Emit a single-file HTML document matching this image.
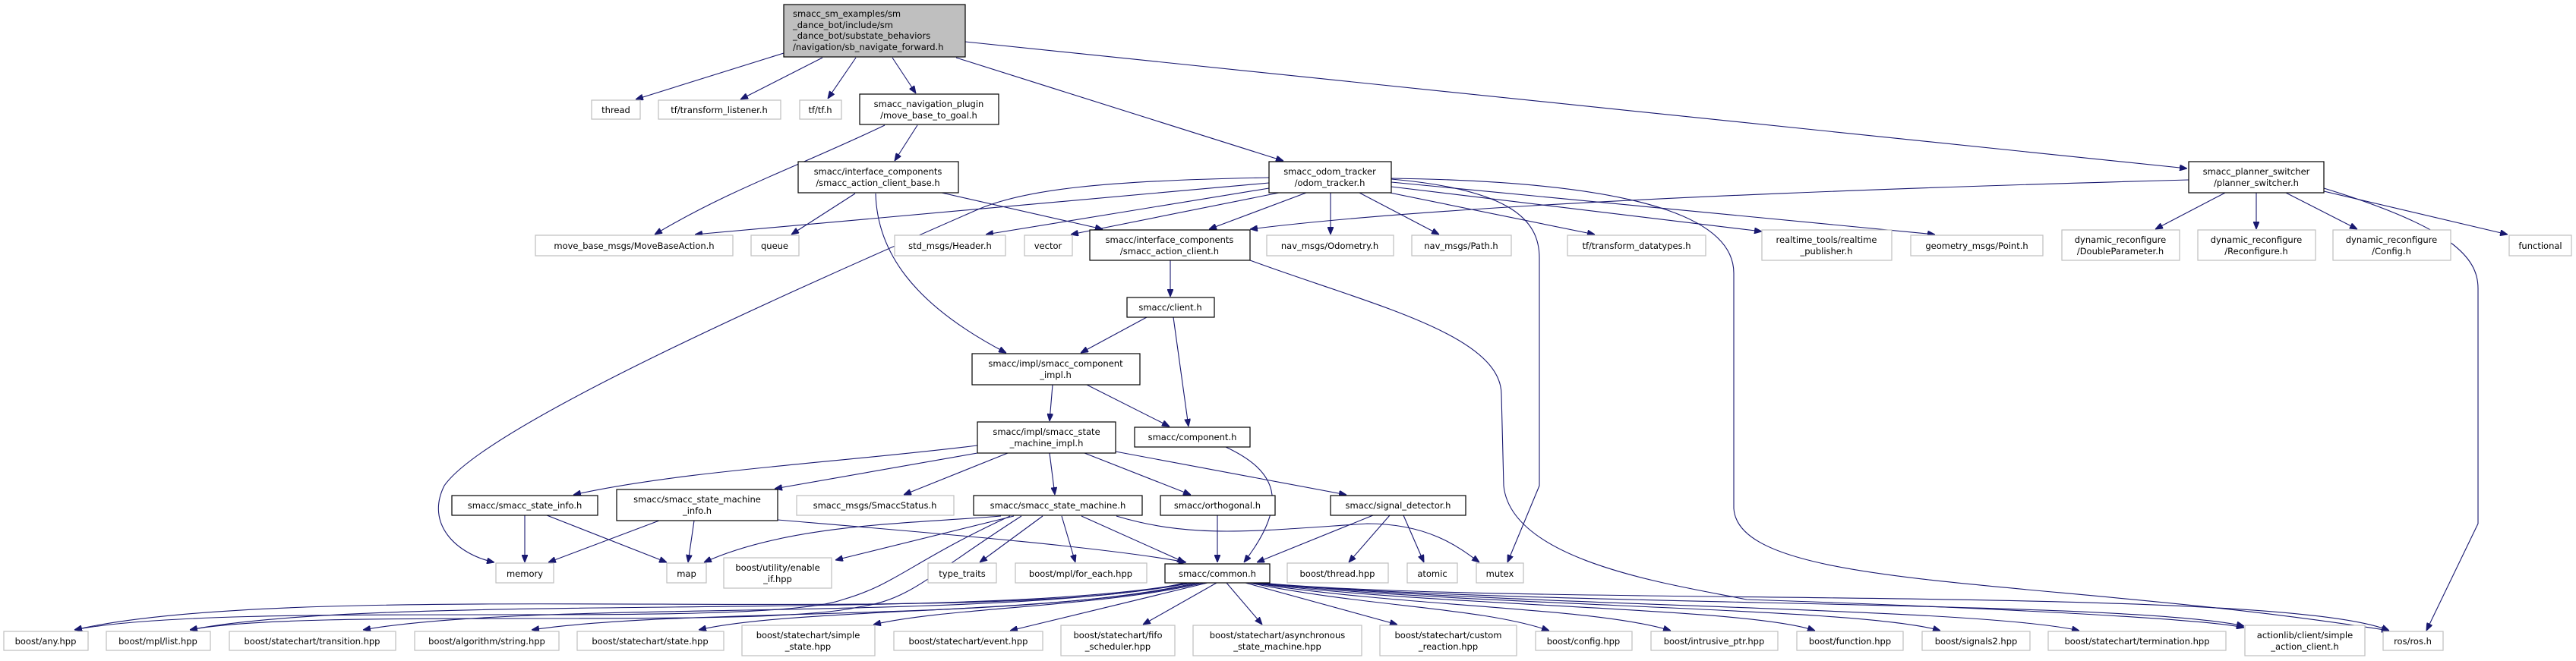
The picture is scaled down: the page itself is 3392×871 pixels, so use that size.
<!DOCTYPE html>
<html><head><meta charset="utf-8"><style>
html,body{margin:0;padding:0;background:#fff;}
svg{display:block;}
text{font-family:"DejaVu Sans","Liberation Sans",sans-serif;font-size:11.5px;fill:#000;}
.g{fill:#fff;stroke:#bfbfbf;stroke-width:1.2;}
.b{fill:#fff;stroke:#000;stroke-width:1.2;}
.e{fill:none;stroke:#191970;stroke-width:1.1;}
</style></head><body>
<svg width="3392" height="871" viewBox="0 0 3392 871" xmlns="http://www.w3.org/2000/svg">
<defs><marker id="a" viewBox="0 0 10 8" refX="10" refY="4" markerWidth="10" markerHeight="8" markerUnits="userSpaceOnUse" orient="auto"><path d="M0,0 L10,4 L0,8 z" fill="#191970" stroke="#191970"/></marker></defs>
<g class="e" marker-end="url(#a)">
<path d="M1032,70 L837,131"/>
<path d="M1083,76 L975,131"/>
<path d="M1127,76 L1090,130"/>
<path d="M1175,76 L1206,123"/>
<path d="M1259,76 L1690,212"/>
<path d="M1271,55 L2880,222"/>
<path d="M1165,165 C1050,220 960,250 862,309"/>
<path d="M1208,165 L1178,212"/>
<path d="M1126,255 L1042,309"/>
<path d="M1240,254 L1452,302"/>
<path d="M1153,255 C1155,330 1200,400 1325,465"/>
<path d="M1671,234 C1450,238 1350,250 1290,275 C1050,380 640,560 585,640 C560,690 600,730 651,741"/>
<path d="M1671,241 L915,309"/>
<path d="M1671,248 L1298,309"/>
<path d="M1684,254 L1410,309"/>
<path d="M1720,254 L1592,302"/>
<path d="M1752,254 L1752,309"/>
<path d="M1790,254 L1895,309"/>
<path d="M1830,254 L2100,309"/>
<path d="M1832,246 L2320,305"/>
<path d="M1832,240 L2548,309"/>
<path d="M1832,236 C1990,250 2027,290 2027,340 L2027,640 L1985,741"/>
<path d="M1832,235 C2200,240 2283,300 2283,360 L2283,670 C2290,780 2700,760 3146,831"/>
<path d="M2882,237 C2400,250 1900,270 1646,302"/>
<path d="M2930,254 L2838,302"/>
<path d="M2971,254 L2971,302"/>
<path d="M3010,254 L3104,302"/>
<path d="M3060,252 L3302,309"/>
<path d="M3060,248 C3230,300 3263,340 3263,380 L3263,690 L3195,831"/>
<path d="M1646,343 C1800,400 1977,440 1977,520 L1980,640 C1990,740 2200,770 2300,790 C2600,800 2900,815 2955,827"/>
<path d="M1541,343 L1541,391"/>
<path d="M1510,418 L1423,465"/>
<path d="M1545,418 L1565,562"/>
<path d="M1386,507 L1382,555"/>
<path d="M1431,507 L1540,562"/>
<path d="M1614,589 C1680,620 1700,660 1638,741"/>
<path d="M1287,587 C1100,610 900,620 755,652"/>
<path d="M1287,597 L1020,644"/>
<path d="M1327,597 L1190,652"/>
<path d="M1382,597 L1389,652"/>
<path d="M1428,597 L1568,652"/>
<path d="M1469,595 L1773,652"/>
<path d="M691,679 L691,741"/>
<path d="M720,679 L878,741"/>
<path d="M868,686 L722,741"/>
<path d="M914,686 L906,741"/>
<path d="M1024,685 C1200,700 1450,720 1562,741"/>
<path d="M1318,680 C1200,690 1040,690 927,741"/>
<path d="M1335,680 L1100,738"/>
<path d="M1330,680 C1200,740 1180,770 1110,790 C1000,830 300,790 98,830"/>
<path d="M1345,680 C1220,760 1200,790 1130,800 C1000,830 400,800 250,830"/>
<path d="M1373,680 L1290,741"/>
<path d="M1398,680 L1416,741"/>
<path d="M1424,680 L1560,741"/>
<path d="M1470,680 C1570,710 1650,700 1800,690 C1880,690 1920,720 1948,741"/>
<path d="M1603,679 L1603,741"/>
<path d="M1808,679 L1655,741"/>
<path d="M1830,679 L1776,741"/>
<path d="M1848,679 L1875,741"/>
<path d="M1560,768 C1300,830 400,760 98,830"/>
<path d="M1565,768 C1300,820 500,780 250,830"/>
<path d="M1570,768 C1300,820 700,790 478,830"/>
<path d="M1575,768 C1350,820 900,800 700,830"/>
<path d="M1580,768 C1400,810 1050,800 920,830"/>
<path d="M1585,768 C1450,800 1250,800 1150,823"/>
<path d="M1590,768 L1330,831"/>
<path d="M1602,768 L1505,823"/>
<path d="M1615,768 L1662,823"/>
<path d="M1640,768 L1840,823"/>
<path d="M1645,768 C1800,800 1950,800 2040,831"/>
<path d="M1648,768 C1850,800 2100,800 2200,831"/>
<path d="M1650,768 C1900,800 2300,800 2390,831"/>
<path d="M1652,768 C1950,800 2450,800 2555,831"/>
<path d="M1655,768 C2000,800 2600,800 2738,831"/>
<path d="M1658,768 C2000,800 2800,790 2955,825"/>
<path d="M1660,768 C2000,800 3000,770 3146,831"/>
</g>
<g>
<rect x="1032" y="6" width="239" height="69" fill="#bfbfbf" stroke="#000" stroke-width="1.2"/>
<text x="1044" y="22">smacc_sm_examples/sm</text>
<text x="1044" y="37">_dance_bot/include/sm</text>
<text x="1044" y="51">_dance_bot/substate_behaviors</text>
<text x="1044" y="66">/navigation/sb_navigate_forward.h</text>
</g>
<g text-anchor="middle">
<rect class="g" x="779" y="132" width="64" height="25"/><text x="811" y="149">thread</text>
<rect class="g" x="867" y="132" width="161" height="25"/><text x="947" y="149">tf/transform_listener.h</text>
<rect class="g" x="1053" y="132" width="55" height="25"/><text x="1080" y="149">tf/tf.h</text>
<rect class="b" x="1132" y="124" width="183" height="40"/><text x="1223" y="141">smacc_navigation_plugin</text><text x="1223" y="156">/move_base_to_goal.h</text>
<rect class="b" x="1051" y="213" width="211" height="41"/><text x="1156" y="230">smacc/interface_components</text><text x="1156" y="245">/smacc_action_client_base.h</text>
<rect class="b" x="1671" y="213" width="161" height="41"/><text x="1751" y="230">smacc_odom_tracker</text><text x="1751" y="245">/odom_tracker.h</text>
<rect class="b" x="2882" y="213" width="178" height="41"/><text x="2971" y="230">smacc_planner_switcher</text><text x="2971" y="245">/planner_switcher.h</text>
<rect class="g" x="705" y="310" width="260" height="27"/><text x="835" y="328">move_base_msgs/MoveBaseAction.h</text>
<rect class="g" x="989" y="310" width="63" height="27"/><text x="1020" y="328">queue</text>
<rect class="g" x="1178" y="310" width="146" height="27"/><text x="1251" y="328">std_msgs/Header.h</text>
<rect class="g" x="1349" y="310" width="63" height="27"/><text x="1380" y="328">vector</text>
<rect class="b" x="1435" y="303" width="211" height="40"/><text x="1540" y="320">smacc/interface_components</text><text x="1540" y="335">/smacc_action_client.h</text>
<rect class="g" x="1668" y="310" width="167" height="27"/><text x="1751" y="328">nav_msgs/Odometry.h</text>
<rect class="g" x="1859" y="310" width="131" height="27"/><text x="1924" y="328">nav_msgs/Path.h</text>
<rect class="g" x="2064" y="310" width="182" height="27"/><text x="2155" y="328">tf/transform_datatypes.h</text>
<rect class="g" x="2320" y="303" width="171" height="40"/><text x="2405" y="320">realtime_tools/realtime</text><text x="2405" y="335">_publisher.h</text>
<rect class="g" x="2516" y="310" width="174" height="27"/><text x="2603" y="328">geometry_msgs/Point.h</text>
<rect class="g" x="2715" y="303" width="155" height="40"/><text x="2792" y="320">dynamic_reconfigure</text><text x="2792" y="335">/DoubleParameter.h</text>
<rect class="g" x="2894" y="303" width="155" height="40"/><text x="2971" y="320">dynamic_reconfigure</text><text x="2971" y="335">/Reconfigure.h</text>
<rect class="g" x="3072" y="303" width="155" height="40"/><text x="3149" y="320">dynamic_reconfigure</text><text x="3149" y="335">/Config.h</text>
<rect class="g" x="3304" y="310" width="82" height="27"/><text x="3345" y="328">functional</text>
<rect class="b" x="1484" y="392" width="115" height="26"/><text x="1541" y="409">smacc/client.h</text>
<rect class="b" x="1280" y="466" width="221" height="41"/><text x="1390" y="483">smacc/impl/smacc_component</text><text x="1390" y="498">_impl.h</text>
<rect class="b" x="1287" y="556" width="182" height="41"/><text x="1378" y="573">smacc/impl/smacc_state</text><text x="1378" y="588">_machine_impl.h</text>
<rect class="b" x="1494" y="563" width="152" height="26"/><text x="1570" y="580">smacc/component.h</text>
<rect class="b" x="595" y="653" width="192" height="26"/><text x="691" y="670">smacc/smacc_state_info.h</text>
<rect class="b" x="812" y="645" width="212" height="41"/><text x="918" y="662">smacc/smacc_state_machine</text><text x="918" y="677">_info.h</text>
<rect class="g" x="1049" y="653" width="207" height="26"/><text x="1152" y="670">smacc_msgs/SmaccStatus.h</text>
<rect class="b" x="1282" y="653" width="222" height="26"/><text x="1393" y="670">smacc/smacc_state_machine.h</text>
<rect class="b" x="1528" y="653" width="151" height="26"/><text x="1603" y="670">smacc/orthogonal.h</text>
<rect class="b" x="1752" y="653" width="178" height="26"/><text x="1841" y="670">smacc/signal_detector.h</text>
<rect class="g" x="653" y="742" width="76" height="26"/><text x="691" y="760">memory</text>
<rect class="g" x="878" y="742" width="52" height="26"/><text x="904" y="760">map</text>
<rect class="g" x="953" y="735" width="142" height="40"/><text x="1024" y="752">boost/utility/enable</text><text x="1024" y="767">_if.hpp</text>
<rect class="g" x="1222" y="742" width="90" height="26"/><text x="1267" y="760">type_traits</text>
<rect class="g" x="1337" y="742" width="173" height="26"/><text x="1423" y="760">boost/mpl/for_each.hpp</text>
<rect class="b" x="1534" y="743" width="138" height="25"/><text x="1603" y="760">smacc/common.h</text>
<rect class="g" x="1695" y="742" width="133" height="26"/><text x="1761" y="760">boost/thread.hpp</text>
<rect class="g" x="1853" y="742" width="66" height="26"/><text x="1886" y="760">atomic</text>
<rect class="g" x="1944" y="742" width="62" height="26"/><text x="1975" y="760">mutex</text>
<rect class="g" x="5" y="832" width="111" height="25"/><text x="60" y="849">boost/any.hpp</text>
<rect class="g" x="140" y="832" width="137" height="25"/><text x="208" y="849">boost/mpl/list.hpp</text>
<rect class="g" x="302" y="832" width="219" height="25"/><text x="411" y="849">boost/statechart/transition.hpp</text>
<rect class="g" x="546" y="832" width="190" height="25"/><text x="641" y="849">boost/algorithm/string.hpp</text>
<rect class="g" x="760" y="832" width="193" height="25"/><text x="856" y="849">boost/statechart/state.hpp</text>
<rect class="g" x="977" y="824" width="175" height="40"/><text x="1064" y="841">boost/statechart/simple</text><text x="1064" y="856">_state.hpp</text>
<rect class="g" x="1177" y="832" width="196" height="25"/><text x="1275" y="849">boost/statechart/event.hpp</text>
<rect class="g" x="1397" y="824" width="150" height="40"/><text x="1472" y="841">boost/statechart/fifo</text><text x="1472" y="856">_scheduler.hpp</text>
<rect class="g" x="1571" y="824" width="222" height="40"/><text x="1682" y="841">boost/statechart/asynchronous</text><text x="1682" y="856">_state_machine.hpp</text>
<rect class="g" x="1817" y="824" width="180" height="40"/><text x="1907" y="841">boost/statechart/custom</text><text x="1907" y="856">_reaction.hpp</text>
<rect class="g" x="2022" y="832" width="127" height="25"/><text x="2085" y="849">boost/config.hpp</text>
<rect class="g" x="2174" y="832" width="167" height="25"/><text x="2257" y="849">boost/intrusive_ptr.hpp</text>
<rect class="g" x="2366" y="832" width="140" height="25"/><text x="2436" y="849">boost/function.hpp</text>
<rect class="g" x="2531" y="832" width="142" height="25"/><text x="2602" y="849">boost/signals2.hpp</text>
<rect class="g" x="2697" y="832" width="234" height="25"/><text x="2814" y="849">boost/statechart/termination.hpp</text>
<rect class="g" x="2956" y="824" width="158" height="40"/><text x="3035" y="841">actionlib/client/simple</text><text x="3035" y="856">_action_client.h</text>
<rect class="g" x="3138" y="832" width="79" height="25"/><text x="3177" y="849">ros/ros.h</text>
</g>
</svg>
</body></html>
